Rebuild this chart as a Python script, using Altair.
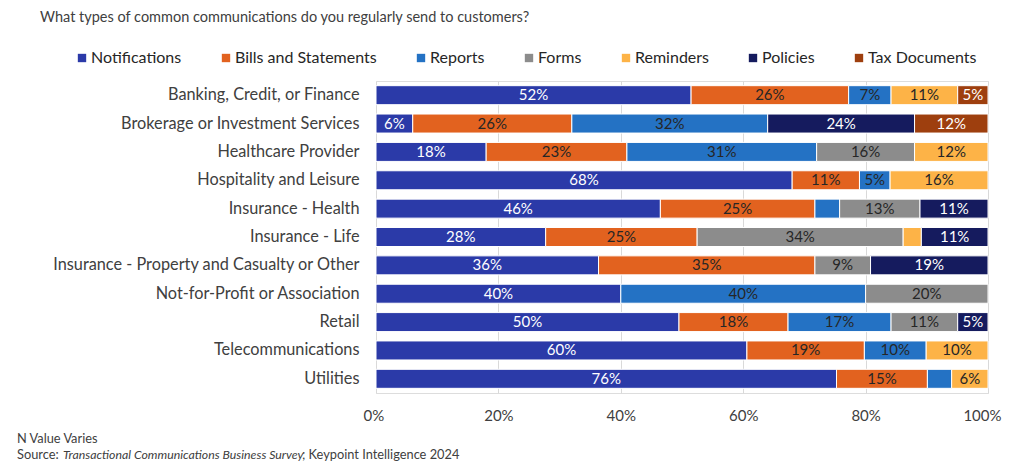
import altair as alt
import pandas as pd

title_text = "What types of common communications do you regularly send to customers?"
note_text = "N Value Varies"
source_a = "Source:"
source_b = "Transactional Communications Business Survey"
source_c = "; Keypoint Intelligence 2024"

categories = [
    "Banking, Credit, or Finance",
    "Brokerage or Investment Services",
    "Healthcare Provider",
    "Hospitality and Leisure",
    "Insurance - Health",
    "Insurance - Life",
    "Insurance - Property and Casualty or Other",
    "Not-for-Profit or Association",
    "Retail",
    "Telecommunications",
    "Utilities",
]
series = ["Notifications", "Bills and Statements", "Reports", "Forms",
          "Reminders", "Policies", "Tax Documents"]
colors = ["#2B3AA8", "#E2621F", "#2472C4", "#8C8C8C", "#FDB347", "#151B5E", "#9E3F0E"]

notifications = [52, 6, 18, 68, 46, 28, 36, 40, 50, 60, 76]
bills = [26, 26, 23, 11, 25, 25, 35, 0, 18, 19, 15]
reports = [7, 32, 31, 5, 4, 0, 0, 40, 17, 10, 4]
forms = [0, 0, 16, 0, 13, 34, 9, 20, 11, 0, 0]
reminders = [11, 0, 12, 16, 0, 3, 0, 0, 0, 10, 6]
policies = [0, 24, 0, 0, 11, 11, 19, 0, 5, 0, 0]
tax_docs = [5, 12, 0, 0, 0, 0, 0, 0, 0, 0, 0]

all_vals = [notifications, bills, reports, forms, reminders, policies, tax_docs]
rows = []
for si, (s, vals) in enumerate(zip(series, all_vals)):
    for ci, c in enumerate(categories):
        if vals[ci] > 0:
            rows.append({"category": c, "series": s, "value": vals[ci], "order": si})
df = pd.DataFrame(rows)

FONT = "Lato"
FS = 16.3

base = alt.Chart(df).transform_stack(
    stack="value", groupby=["category"], as_=["v0", "v1"],
    offset="normalize", sort=[alt.SortField("order")]
)

yenc = alt.Y("category:N", sort=categories,
             scale=alt.Scale(paddingInner=0.33, paddingOuter=0.165),
             axis=alt.Axis(title=None, labelFontSize=FS, labelFont=FONT, labelColor="#404040",
                           ticks=False, domain=False, labelPadding=17, labelLimit=400))

bars = base.mark_bar(stroke="white", strokeWidth=1).encode(
    x=alt.X("v0:Q", scale=alt.Scale(domain=[0, 1]),
            axis=alt.Axis(title=None, format="%", values=[0, 0.2, 0.4, 0.6, 0.8, 1.0],
                          labelFontSize=15, labelFont=FONT, labelColor="#404040",
                          ticks=False, domain=False, labelPadding=15,
                          labelFlush=True, labelFlushOffset=13,
                          gridColor="#D9D9D9", grid=True)),
    x2="v1:Q",
    y=yenc,
    color=alt.Color("series:N", scale=alt.Scale(domain=series, range=colors),
                    legend=alt.Legend(title=None, orient="none", legendX=-302, legendY=-31,
                                      direction="horizontal", columns=7,
                                      symbolType="square", symbolSize=70, symbolStrokeWidth=0,
                                      symbolOpacity=1,
                                      labelFontSize=16, labelFont=FONT, labelColor="#262626",
                                      labelOffset=1, columnPadding=36, labelLimit=400)),
)

labels = base.transform_calculate(
    mid="(datum.v0 + datum.v1) / 2",
    lbl="datum.value + '%'",
    lc="(datum.series == 'Notifications' || datum.series == 'Policies' || datum.series == 'Tax Documents') ? 'white' : '#262626'",
).transform_filter("datum.value >= 5").mark_text(fontSize=15, font=FONT, baseline="middle").encode(
    x="mid:Q",
    y=alt.Y("category:N", sort=categories),
    text="lbl:N",
    color=alt.Color("lc:N", scale=None),
)

def txt(t, x, y, size, style="normal"):
    return alt.Chart(pd.DataFrame({"t": [t]})).mark_text(
        align="left", baseline="middle", fontSize=size, font=FONT,
        color="#404040", fontStyle=style
    ).encode(x=alt.value(x), y=alt.value(y), text="t:N")

title = txt(title_text, -336, -63, 14.5)
note = txt(note_text, -359, 358, 12.8)
src_a = txt(source_a, -359, 374, 12.8)
src_b = txt(source_b, -313, 374, 12.3, "italic")
src_c = txt(source_c, -74, 374, 12.8)

chart = alt.layer(bars, labels, title, note, src_a, src_b, src_c).properties(
    width=612, height=312,
    autosize=alt.AutoSizeParams(type="none"),
    padding={"left": 368, "top": 73, "right": 14, "bottom": 68},
).configure_view(stroke=None).configure(background="white")

chart.save("out.html", embed_options={"renderer": "svg", "actions": False})
